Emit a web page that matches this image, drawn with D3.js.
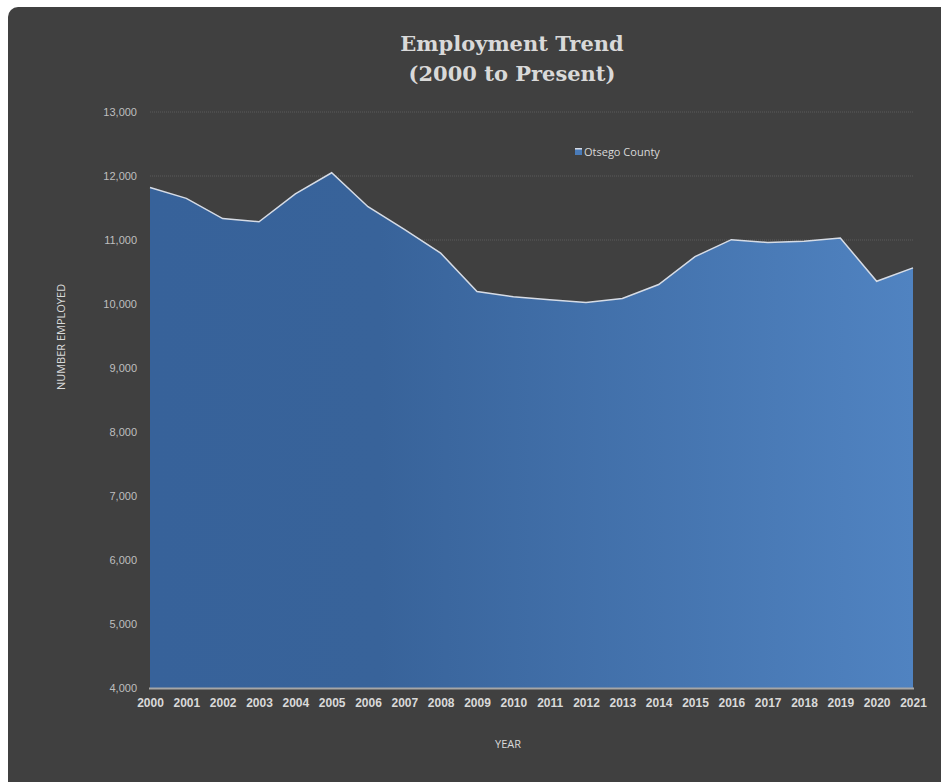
<!DOCTYPE html>
<html lang="en">

<head>
    <meta charset="UTF-8">
    <title>Employment Trend</title>
    <script src="https://d3js.org/d3.v7.min.js"></script>
    <style>
        body {
            margin: 0;
            background: #ffffff;
            font-family: "Open Sans", Arial, sans-serif;
        }

        svg {
            display: block;
        }

        .title {
            font-family: "DejaVu Serif", "Liberation Serif", serif;
            font-weight: bold;
            font-size: 21px;
            fill: #d9d9d9;
            text-anchor: middle;
        }

        .ytick text {
            font-size: 11px;
            fill: #bfbfbf;
        }

        .xtick text {
            font-size: 12px;
            font-weight: bold;
            fill: #d9d9d9;
        }

        .axis-title {
            font-size: 11px;
            fill: #d9d9d9;
        }
    </style>
</head>

<body>
    <svg id="chart"></svg>

    <script>
        // data
        const years = ["2000", "2001", "2002", "2003", "2004", "2005", "2006", "2007", "2008", "2009", "2010",
            "2011", "2012", "2013", "2014", "2015", "2016", "2017", "2018", "2019", "2020", "2021"];
        const employed = [11820, 11650, 11335, 11285, 11720, 12050, 11520, 11165, 10795, 10195, 10115,
            10065, 10025, 10085, 10305, 10740, 11005, 10960, 10980, 11030, 10355, 10565];
        const yTicks = [4000, 5000, 6000, 7000, 8000, 9000, 10000, 11000, 12000, 13000];
        const seriesName = "Otsego County";

        const width = 941, height = 782;
        const svg = d3.select("#chart").attr("width", width).attr("height", height);

        // dark panel, runs off the right/bottom edge
        svg.append("rect")
            .attr("x", 8).attr("y", 7)
            .attr("width", 960).attr("height", 800)
            .attr("rx", 10)
            .attr("fill", "#404040");

        const x = d3.scalePoint().domain(years).range([150, 913]);
        const y = d3.scaleLinear().domain([4000, 13000]).range([688, 112]);

        // title
        svg.append("text").attr("class", "title").attr("x", 512).attr("y", 51).text("Employment Trend");
        svg.append("text").attr("class", "title").attr("x", 512).attr("y", 81).text("(2000 to Present)");

        // gridlines
        svg.append("g")
            .selectAll("line")
            .data(yTicks.filter(d => d > 4000))
            .join("line")
            .attr("x1", 150).attr("x2", 913)
            .attr("y1", d => y(d)).attr("y2", d => y(d))
            .attr("stroke", "#5a5a5a")
            .attr("stroke-width", 1)
            .attr("stroke-dasharray", "1,1");

        // gradient fill for area
        const grad = svg.append("defs").append("linearGradient")
            .attr("id", "areaGrad")
            .attr("x1", "0%").attr("x2", "100%").attr("y1", "0%").attr("y2", "0%");
        grad.append("stop").attr("offset", "0%").attr("stop-color", "#37629a");
        grad.append("stop").attr("offset", "30%").attr("stop-color", "#38639a");
        grad.append("stop").attr("offset", "100%").attr("stop-color", "#5083c1");

        const area = d3.area()
            .x((d, i) => x(years[i]))
            .y0(y(4000))
            .y1(d => y(d));

        svg.append("path")
            .datum(employed)
            .attr("d", area)
            .attr("fill", "url(#areaGrad)");

        const line = d3.line()
            .x((d, i) => x(years[i]))
            .y(d => y(d));

        svg.append("path")
            .datum(employed)
            .attr("d", line)
            .attr("fill", "none")
            .attr("stroke", "#d6dce6")
            .attr("stroke-width", 1.5);

        // x axis line
        svg.append("line")
            .attr("x1", 149).attr("x2", 914)
            .attr("y1", 688.5).attr("y2", 688.5)
            .attr("stroke", "#a6a6a6")
            .attr("stroke-width", 2);

        // y tick labels
        const yAxis = d3.axisLeft(y).tickValues(yTicks).tickFormat(d3.format(",")).tickSize(0).tickPadding(0);
        const gy = svg.append("g").attr("class", "ytick").attr("transform", "translate(137,0)").call(yAxis);
        gy.select(".domain").remove();
        gy.selectAll("text").attr("dy", "0.35em");

        // x tick labels
        const xAxis = d3.axisBottom(x).tickSize(0).tickPadding(0);
        const gx = svg.append("g").attr("class", "xtick").attr("transform", "translate(0,698)").call(xAxis);
        gx.select(".domain").remove();
        gx.selectAll("text").attr("dy", "0.71em");

        // axis titles
        svg.append("text").attr("class", "axis-title")
            .attr("transform", "translate(65,337) rotate(-90)")
            .attr("text-anchor", "middle")
            .text("NUMBER EMPLOYED");
        svg.append("text").attr("class", "axis-title")
            .attr("x", 508).attr("y", 748)
            .attr("text-anchor", "middle")
            .text("YEAR");

        // legend
        const lg = svg.append("g").attr("transform", "translate(575,148)");
        lg.append("rect").attr("width", 7).attr("height", 7).attr("fill", "#4a7bb8");
        lg.append("rect").attr("width", 7).attr("height", 1.5).attr("fill", "#d6dce6");
        lg.append("text")
            .attr("x", 9).attr("y", 7.5)
            .attr("font-size", 11)
            .attr("fill", "#d9d9d9")
            .text(seriesName);
    </script>
</body>

</html>
